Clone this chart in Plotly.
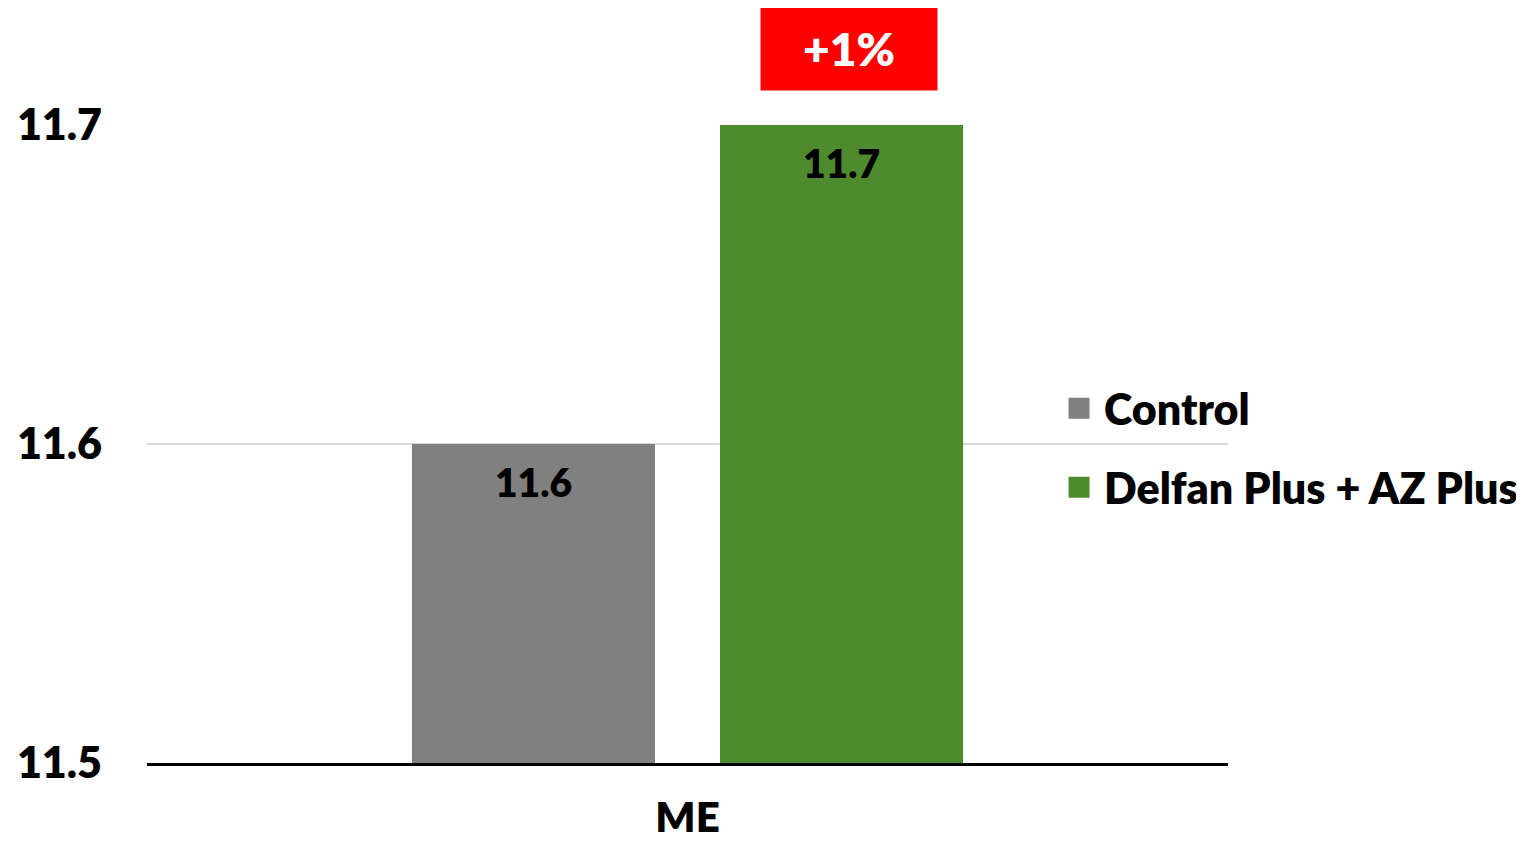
import plotly.graph_objects as go

categories = ["ME"]
series_names = ["Control", "Delfan Plus + AZ Plus"]
control_values = [11.6]
treated_values = [11.7]
series_colors = ["#808080", "#4E8B2E"]
y_ticks = [11.5, 11.6, 11.7]
change_label = "+1%"

FONT = "Lato"
W = 800  # font weight

fig = go.Figure()
series_values = [control_values, treated_values]
bar_shift = [-154, 154]
for i, (name, vals) in enumerate(zip(series_names, series_values)):
    fig.add_trace(go.Bar(
        x=categories, y=vals, name=name,
        marker=dict(color=series_colors[i], line=dict(width=0)),
        showlegend=False, hoverinfo="x+y",
    ))
    # legend entry with large square swatch
    fig.add_trace(go.Scatter(
        x=[None], y=[None], mode="markers", name=name,
        marker=dict(symbol="square", size=16, color=series_colors[i],
                    line=dict(width=5, color=series_colors[i])),
        legendgroup=str(i),
    ))
    for c, v in zip(categories, vals):
        fig.add_annotation(
            x=c, y=v, xref="x", yref="y", text=f"{v:.1f}",
            showarrow=False, xanchor="center", yanchor="middle",
            xshift=bar_shift[i], yshift=-38,
            font=dict(family=FONT, size=39, color="black", weight=W),
        )

fig.add_annotation(
    text=change_label, xref="paper", yref="paper",
    x=(849 - 147) / 1081, y=(763 - 48) / 638, xanchor="center", yanchor="middle",
    showarrow=False, bgcolor="#FF0000", width=176, height=83, borderpad=0,
    font=dict(family=FONT, size=46, color="white", weight=W),
)

fig.update_layout(
    width=1516, height=835,
    margin=dict(l=139, r=296, t=117, b=80, autoexpand=False),
    plot_bgcolor="white", paper_bgcolor="white",
    barmode="group", bargap=0.43, bargroupgap=0.211,
    showlegend=True,
    legend=dict(
        x=0.84 - 1 / 1081, y=0.61, xanchor="left", yanchor="top",
        font=dict(family=FONT, size=43, color="black", weight=W),
        traceorder="grouped", tracegroupgap=20, itemsizing="trace",
        itemwidth=40, bgcolor="rgba(0,0,0,0)",
    ),
    xaxis=dict(
        showgrid=False, showline=True, linecolor="black", linewidth=3,
        ticks="", tickfont=dict(family=FONT, size=42, color="black", weight=W),
        ticklabelstandoff=16, automargin=False,
    ),
    yaxis=dict(
        range=[11.5, 11.7], tickvals=y_ticks, ticktext=[f"{t:.1f}" for t in y_ticks],
        showgrid=True, gridcolor="#D9D9D9", gridwidth=2, zeroline=False,
        showline=False, ticks="", automargin=False,
        tickfont=dict(family=FONT, size=43, color="black", weight=W),
        ticklabelstandoff=44,
    ),
)

fig.write_html("out.html")
